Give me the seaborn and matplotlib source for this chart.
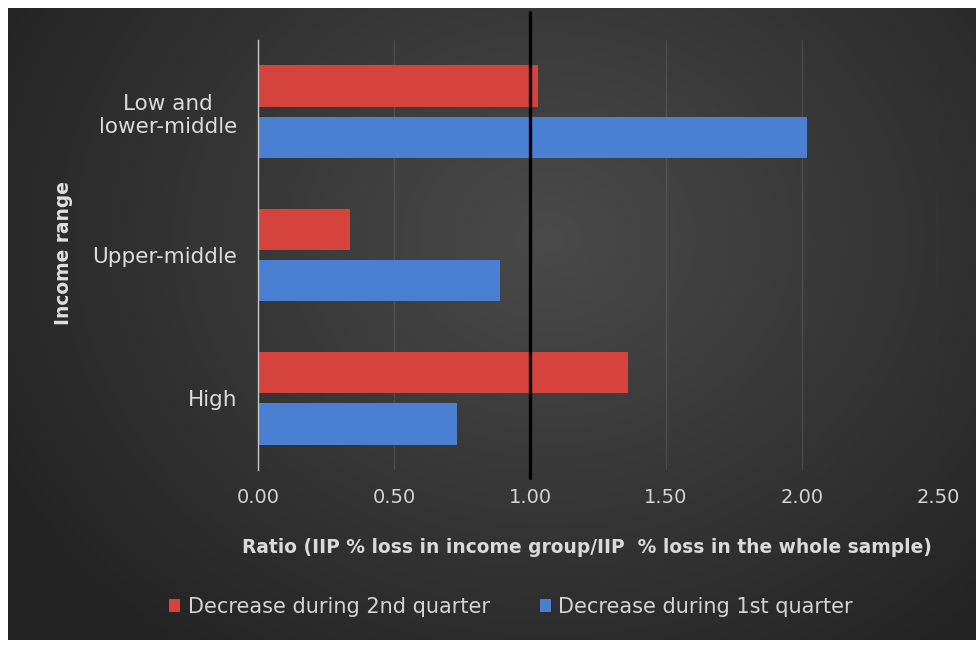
import numpy as np
import pandas as pd
import seaborn as sns
import matplotlib
matplotlib.use("Agg")
import matplotlib.pyplot as plt

# ---- data ----
categories = ["Low and\nlower-middle", "Upper-middle", "High"]
series_names = ["Decrease during 2nd quarter", "Decrease during 1st quarter"]
q2_values = [1.03, 0.34, 1.36]
q1_values = [2.02, 0.89, 0.73]
x_ticks = [0.0, 0.5, 1.0, 1.5, 2.0, 2.5]
reference_ratio = 1.0

colors = {"Decrease during 2nd quarter": "#d6423c",
          "Decrease during 1st quarter": "#4a80d2"}

df = pd.DataFrame({
    "category": categories * 2,
    "series": [series_names[0]] * 3 + [series_names[1]] * 3,
    "value": q2_values + q1_values,
})

sns.set_theme(style="dark")
plt.rcParams["font.family"] = ["DejaVu Sans"]

W, H = 976, 645
fig = plt.figure(figsize=(W / 100, H / 100), dpi=100)
fig.patch.set_facecolor("white")

# background panel with radial gradient
bg = fig.add_axes([8 / W, 5 / H, 968 / W, 632 / H])
bg.set_axis_off()
yy, xx = np.mgrid[0:632, 0:968]
cx, cy = 540, 230
r = np.sqrt(((xx - cx) / 620.0) ** 2 + ((yy - cy) / 520.0) ** 2)
v = np.clip(74 - 38 * r, 36, 74) / 255.0
img = np.dstack([v, v, v])
bg.imshow(img, aspect="auto", extent=[0, 1, 0, 1], interpolation="bilinear")
bg.set_xlim(0, 1)
bg.set_ylim(0, 1)

ax = fig.add_axes([258 / W, 1 - 470 / H, 680 / W, 430 / H])
ax.set_facecolor((0, 0, 0, 0))

sns.barplot(data=df, x="value", y="category", hue="series", orient="h",
            hue_order=series_names, palette=colors, width=0.72, gap=0.2,
            saturation=1, ax=ax, edgecolor="none")

ax.set_xlim(0, 2.5)
ax.set_ylim(2.5, -0.5)
ax.set_xticks(x_ticks)
ax.set_xticklabels([f"{t:.2f}" for t in x_ticks])
ax.grid(axis="x", color="white", alpha=0.11, linewidth=0.9)
ax.grid(axis="y", visible=False)
ax.set_axisbelow(True)

for s in ["top", "right", "bottom"]:
    ax.spines[s].set_visible(False)
ax.spines["left"].set_color("#c8c8c8")
ax.spines["left"].set_linewidth(1.0)

ax.tick_params(axis="x", length=0, pad=13, labelsize=14, labelcolor="#d4d4d4")
ax.tick_params(axis="y", length=0, pad=15, labelsize=15.5, labelcolor="#dcdcdc")
for lbl in ax.get_yticklabels():
    lbl.set_multialignment("center")

ax.axvline(reference_ratio, ymin=-0.019, ymax=1.065, color="black",
           linewidth=2.4, clip_on=False, zorder=5)

ax.set_xlabel("Ratio (IIP % loss in income group/IIP  % loss in the whole sample)",
              fontsize=13.4, fontweight="bold", color="#dadada")
ax.xaxis.set_label_coords((587 - 258) / 680, (470 - 538) / 430)
ax.set_ylabel("Income range", fontsize=13.4, fontweight="bold", color="#e0e0e0")
ax.yaxis.set_label_coords((73 - 258) / 680, (470 - 253) / 430)

sns.move_legend(ax, "center", bbox_to_anchor=((511 - 258) / 680, (470 - 607) / 430),
                ncol=2, frameon=False, title=None, fontsize=15,
                handlelength=0.55, handleheight=0.55, handletextpad=0.35,
                columnspacing=2.4, labelcolor="#d4d4d4")

fig.savefig("out.png", dpi=100, facecolor=fig.get_facecolor())
